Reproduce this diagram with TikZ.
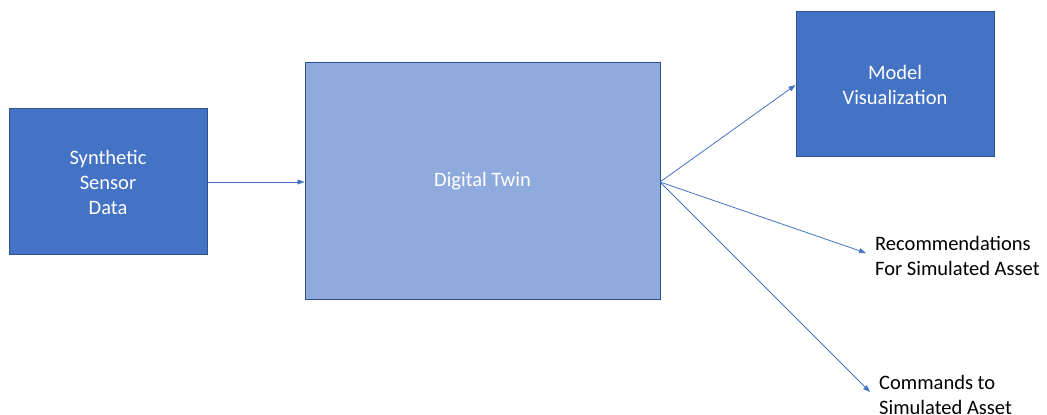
\documentclass[tikz,border=0pt]{standalone}
\usepackage{fontspec}
\setmainfont{Carlito}
\usetikzlibrary{arrows.meta}
\definecolor{boxblue}{HTML}{4472C4}
\definecolor{boxedge}{HTML}{2F528F}
\definecolor{lightblue}{HTML}{8FAADC}
\tikzset{
  txt/.style={font=\fontsize{20.5}{25}\selectfont},
  darkbox/.style={txt, draw=boxedge, line width=1pt, fill=boxblue, text=white, align=center, inner sep=0pt},
  lightbox/.style={txt, draw=boxedge, line width=1pt, fill=lightblue, text=white, align=center, inner sep=0pt},
  plainlabel/.style={txt, text=black, align=left, anchor=west, inner sep=0pt},
  conn/.style={draw=boxblue, line width=0.8pt, -{Triangle[length=7pt,width=5pt]}}
}
\begin{document}
\begin{tikzpicture}[x=1pt,y=1pt]
\useasboundingbox (0,0) rectangle (1047,415);
\node[darkbox, minimum width=198pt, minimum height=146pt] (syn) at (108,233) {Synthetic\\Sensor\\Data};
\node[lightbox, minimum width=355pt, minimum height=237pt] (dt) at (482.5,233.5) {Digital Twin};
\node[darkbox, minimum width=198pt, minimum height=145pt] (mv) at (895,330.5) {};
\node[txt, text=white, align=center, inner sep=0pt] (mvt) at (895,330) {Model\\Visualization};
\node[plainlabel] (rec) at (875,159) {Recommendations\\For Simulated Asset};
\node[plainlabel] (cmd) at (879,20) {Commands to\\Simulated Asset};
\coordinate (hub) at (660,233);
\coordinate (recend) at (866,162);
\coordinate (cmdend) at (870,23);
\draw[conn] (syn.east) -- (dt.west |- syn.east);
\draw[conn] (hub) -- (mv.west |- 0,330);
\draw[conn] (hub) -- (recend);
\draw[conn] (hub) -- (cmdend);
\end{tikzpicture}
\end{document}
